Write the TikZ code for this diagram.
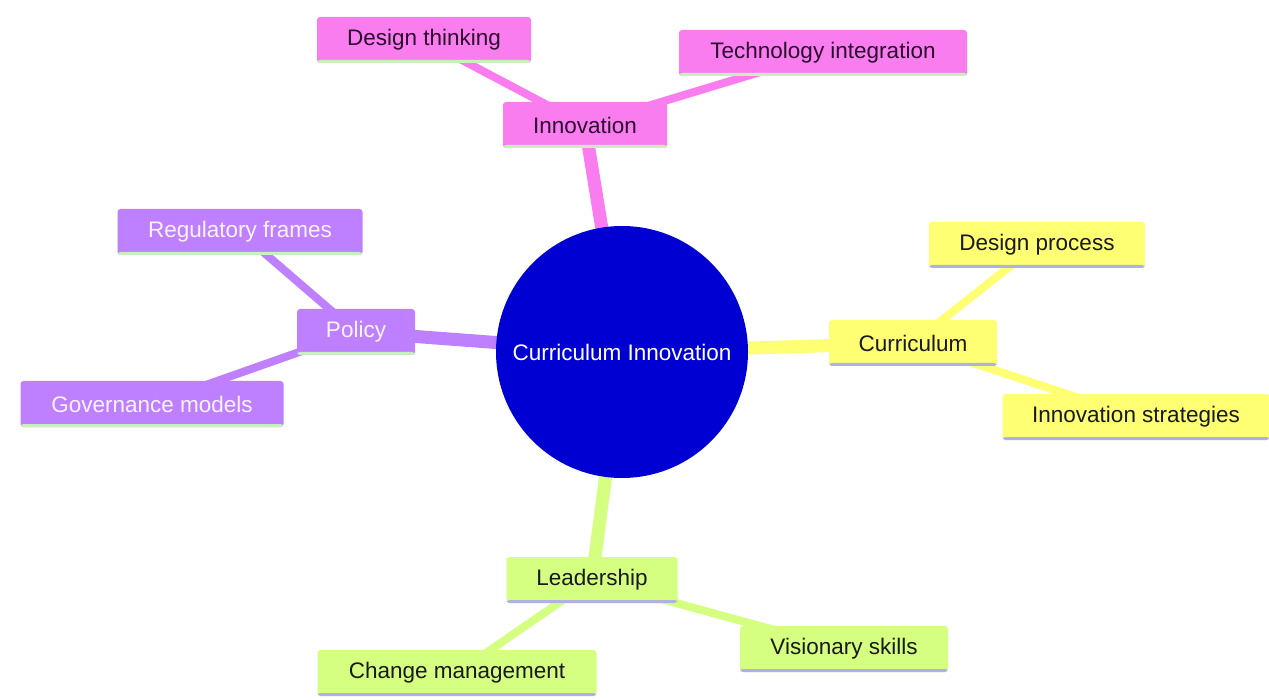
\documentclass[tikz,border=0pt]{standalone}
\usepackage{fontspec}
\setmainfont{Liberation Sans}
\usetikzlibrary{backgrounds}
\definecolor{pinkc}{RGB}{250,125,240}
\definecolor{purplec}{RGB}{191,128,255}
\definecolor{yellowc}{RGB}{255,255,115}
\definecolor{limec}{RGB}{212,255,128}
\definecolor{greenline}{RGB}{200,240,190}
\definecolor{lavline}{RGB}{176,176,225}
\definecolor{rootblue}{RGB}{0,0,210}
\definecolor{pinktext}{RGB}{45,10,45}
\definecolor{purpletext}{RGB}{248,244,255}
\definecolor{darktext}{RGB}{25,25,25}
\tikzset{
  mm/.style={rectangle, rounded corners=3pt, inner xsep=0pt, inner ysep=0pt,
    minimum height=46pt, font=\fontsize{22.5}{26}\selectfont},
  bottomline/.style={path picture={\fill[#1] ([yshift=3pt]path picture bounding box.south west) rectangle (path picture bounding box.south east);}},
  pinkbox/.style={mm, fill=pinkc, text=pinktext, bottomline=greenline},
  purplebox/.style={mm, fill=purplec, text=purpletext, bottomline=greenline},
  yellowbox/.style={mm, fill=yellowc, text=darktext, bottomline=lavline},
  limebox/.style={mm, fill=limec, text=darktext, bottomline=lavline},
  mainedge/.style={line width=13pt},
  subedge/.style={line width=8pt},
}
\begin{document}
\begin{tikzpicture}[x=1pt,y=-1pt]
\useasboundingbox (0,0) rectangle (1269,700);
\node[circle, fill=rootblue, text=white, minimum size=252pt, inner sep=0pt, font=\fontsize{22.5}{26}\selectfont] (root) at (622,352) {Curriculum Innovation};

\node[pinkbox, minimum width=164pt] (inn) at (585,125) {Innovation};
\node[pinkbox, minimum width=214pt] (dt) at (424,40) {Design thinking};
\node[pinkbox, minimum width=288pt] (ti) at (823,53) {Technology integration};

\node[purplebox, minimum width=118pt] (pol) at (356,332) {Policy};
\node[purplebox, minimum width=245pt] (rf) at (240,232) {Regulatory frames};
\node[purplebox, minimum width=263pt] (gm) at (152,404) {Governance models};

\node[yellowbox, minimum width=168pt] (cur) at (913,343) {Curriculum};
\node[yellowbox, minimum width=216pt] (dp) at (1037,245) {Design process};
\node[yellowbox, minimum width=267pt] (is) at (1136,417) {Innovation strategies};

\node[limebox, minimum width=171pt] (lead) at (592,580) {Leadership};
\node[limebox, minimum width=279pt] (cm) at (457,673) {Change management};
\node[limebox, minimum width=208pt] (vs) at (844,649) {Visionary skills};

\begin{pgfonlayer}{background}
\draw[mainedge, pinkc] (root.center) -- (inn.center);
\draw[subedge, pinkc] (inn.center) -- (dt.center);
\draw[subedge, pinkc] (inn.center) -- (ti.center);
\draw[mainedge, purplec] (root.center) -- (pol.center);
\draw[subedge, purplec] (pol.center) -- (rf.center);
\draw[subedge, purplec] (pol.center) -- (gm.center);
\draw[mainedge, yellowc] (root.center) -- (cur.center);
\draw[subedge, yellowc] (cur.center) -- (dp.center);
\draw[subedge, yellowc] (cur.center) -- (is.center);
\draw[mainedge, limec] (root.center) -- (lead.center);
\draw[subedge, limec] (lead.center) -- (cm.center);
\draw[subedge, limec] (lead.center) -- (vs.center);
\end{pgfonlayer}
\end{tikzpicture}
\end{document}
